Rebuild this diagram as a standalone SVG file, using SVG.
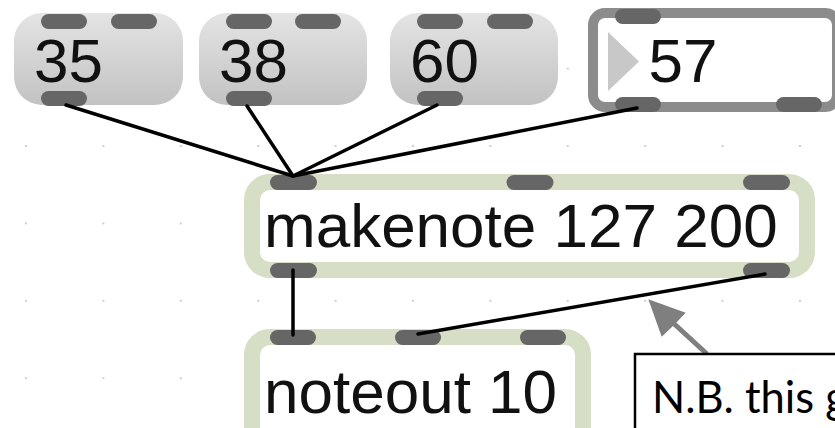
<svg xmlns="http://www.w3.org/2000/svg" width="835" height="428" viewBox="0 0 835 428">
  <defs>
    <!-- patcher grid dots -->
    <pattern id="grid" patternUnits="userSpaceOnUse" x="-12.7" y="29.9" width="77.4" height="77.4">
      <circle cx="38.7" cy="38.7" r="1.1" fill="#c4c4c4"/>
    </pattern>
    <linearGradient id="msgFill" x1="0" y1="0" x2="0" y2="1">
      <stop offset="0" stop-color="#e4e4e4"/>
      <stop offset="1" stop-color="#c2c2c2"/>
    </linearGradient>
  </defs>
  <style>
    .msg { fill: url(#msgFill); }
    .obj { fill: #ffffff; stroke: #d6dec5; stroke-width: 16; }
    .num { fill: #ffffff; stroke: #8c8c8c; stroke-width: 10; }
    .tab { fill: #666666; }
    .label { font-family: "Liberation Sans", Arial, Helvetica, sans-serif; font-size: 62px; fill: #111111; }
    .cord { stroke: #000000; stroke-width: 3.5; stroke-linecap: round; fill: none; }
    .note { font-family: Lato, "Noto Sans", sans-serif; font-size: 43.5px; fill: #000000; }
  </style>

  <rect width="835" height="428" fill="#ffffff"/>
  <rect width="835" height="428" fill="url(#grid)"/>

  <!-- message boxes -->
  <g id="msg35">
    <rect class="msg" x="14" y="13" width="169" height="92" rx="28"/>
    <rect class="tab" x="41" y="14" width="46" height="15" rx="7.5"/>
    <rect class="tab" x="111" y="14" width="46" height="15" rx="7.5"/>
    <rect class="tab" x="41" y="91" width="46" height="15" rx="7.5"/>
    <text class="label" x="34" y="82">35</text>
  </g>
  <g id="msg38">
    <rect class="msg" x="199" y="13" width="168" height="92" rx="28"/>
    <rect class="tab" x="226" y="14" width="46" height="15" rx="7.5"/>
    <rect class="tab" x="295" y="14" width="46" height="15" rx="7.5"/>
    <rect class="tab" x="226" y="91" width="46" height="15" rx="7.5"/>
    <text class="label" x="219" y="82">38</text>
  </g>
  <g id="msg60">
    <rect class="msg" x="390" y="13" width="168" height="92" rx="28"/>
    <rect class="tab" x="417" y="14" width="46" height="15" rx="7.5"/>
    <rect class="tab" x="487" y="14" width="46" height="15" rx="7.5"/>
    <rect class="tab" x="417" y="91" width="46" height="15" rx="7.5"/>
    <text class="label" x="410" y="82">60</text>
  </g>

  <!-- number box -->
  <g id="num57">
    <rect class="num" x="593" y="13" width="244" height="94" rx="12"/>
    <polygon points="608,32 608,91 639,61.5" fill="#c8c8c8"/>
    <rect class="tab" x="615" y="9" width="46" height="15" rx="7.5"/>
    <rect class="tab" x="615" y="97" width="46" height="15" rx="7.5"/>
    <rect class="tab" x="776" y="97" width="46" height="15" rx="7.5"/>
    <text class="label" x="648.5" y="82">57</text>
  </g>

  <!-- makenote object -->
  <g id="makenote">
    <rect class="obj" x="252" y="182" width="555" height="88" rx="18"/>
    <rect class="tab" x="270" y="175" width="47" height="15" rx="7.5"/>
    <rect class="tab" x="506.5" y="175" width="47" height="15" rx="7.5"/>
    <rect class="tab" x="743" y="175" width="47" height="15" rx="7.5"/>
    <rect class="tab" x="270" y="263" width="47" height="15" rx="7.5"/>
    <rect class="tab" x="743" y="263" width="47" height="15" rx="7.5"/>
    <text class="label" x="264" y="247">makenote 127 200</text>
  </g>

  <!-- noteout object -->
  <g id="noteout">
    <rect class="obj" x="252" y="337" width="331" height="110" rx="18"/>
    <rect class="tab" x="270" y="330" width="46" height="15" rx="7.5"/>
    <rect class="tab" x="395" y="330" width="46" height="15" rx="7.5"/>
    <rect class="tab" x="520" y="330" width="46" height="15" rx="7.5"/>
    <text class="label" x="264" y="413">noteout 10</text>
  </g>

  <!-- patch cords -->
  <g id="cords">
    <line class="cord" x1="66" y1="105" x2="293" y2="176"/>
    <line class="cord" x1="247" y1="106" x2="293" y2="176"/>
    <line class="cord" x1="437" y1="105" x2="293" y2="176"/>
    <line class="cord" x1="637" y1="108" x2="293" y2="176"/>
    <line class="cord" x1="293" y1="270" x2="293" y2="335"/>
    <line class="cord" x1="765" y1="274" x2="418" y2="334"/>
  </g>

  <!-- annotation -->
  <g id="annotation">
    <line x1="707" y1="354" x2="670" y2="320" stroke="#7f7f7f" stroke-width="5"/>
    <polygon points="648.3,299.3 661.7,336.7 673,326 685.7,312.7" fill="#7f7f7f"/>
    <rect x="635" y="354" width="260" height="120" fill="#ffffff" stroke="#000000" stroke-width="2.5"/>
    <text class="note" x="652" y="413">N.B. this g</text>
  </g>
</svg>
